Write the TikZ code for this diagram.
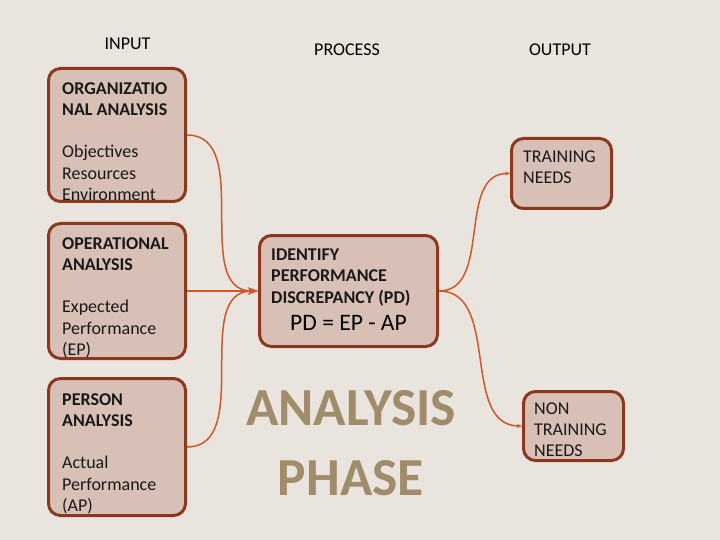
\documentclass[tikz,border=0pt]{standalone}
\usepackage{fontspec}
\setmainfont{Carlito}
\usetikzlibrary{arrows.meta}
\definecolor{slidebg}{RGB}{233,228,221}
\definecolor{boxfill}{RGB}{216,192,182}
\definecolor{boxborder}{RGB}{140,56,30}
\definecolor{linkred}{RGB}{208,86,44}
\definecolor{phasetan}{RGB}{160,140,106}

\begin{document}
\begin{tikzpicture}[
    x=1pt, y=-1pt,
    box/.style={rectangle, rounded corners=12pt, draw=boxborder, line width=3pt, fill=boxfill, inner sep=0pt},
    boxtxt/.style={anchor=base west, align=left, inner sep=0pt, font=\fontsize{18}{21.3}\selectfont, text=black!90},
    head/.style={anchor=base, inner sep=0pt, font=\fontsize{18}{21.3}\selectfont},
    link/.style={linkred, line width=1.5pt, -{Stealth[length=10pt,width=7pt,inset=3pt]}},
    outlink/.style={linkred, line width=1.5pt, -{Stealth[length=5pt,width=4pt]}},
]
    \fill[slidebg] (0,0) rectangle (720,540);
    \useasboundingbox (0,0) rectangle (720,540);

    % column heads
    \node[head] (hin) at (127.5,50) {INPUT};
    \node[head] (hproc) at (347,56) {PROCESS};
    \node[head] (hout) at (560,56) {OUTPUT};

    % input boxes (text placed by its last baseline)
    \node[box, minimum width=137, minimum height=133] (org) at (117,135) {};
    \node[boxtxt] (orgtxt) at (62,200.5) {\textbf{ORGANIZATIO}\\\textbf{NAL ANALYSIS}\\[21.3pt]Objectives\\Resources\\Environment};

    \node[box, minimum width=137, minimum height=135] (oper) at (117,291) {};
    \node[boxtxt] (opertxt) at (62,355.5) {\textbf{OPERATIONAL}\\\textbf{ANALYSIS}\\[21.3pt]Expected\\Performance\\(EP)};

    \node[box, minimum width=137, minimum height=137] (person) at (117,447) {};
    \node[boxtxt] (persontxt) at (62,511.5) {\textbf{PERSON}\\\textbf{ANALYSIS}\\[21.3pt]Actual\\Performance\\(AP)};

    % process
    \node[box, minimum width=178, minimum height=111] (ident) at (348.5,291) {};
    \node[boxtxt] (identtxt) at (271,303) {\textbf{IDENTIFY}\\\textbf{PERFORMANCE}\\\textbf{DISCREPANCY (PD)}};
    \node[anchor=base, inner sep=0pt, font=\fontsize{23.6}{28}\selectfont] (pdeq) at (348.5,330) {PD = EP - AP};

    \node[anchor=base, align=center, inner sep=0pt, text=phasetan, font=\fontsize{53.5}{70}\selectfont\bfseries] (phase) at (351,495) {ANALYSIS\\PHASE};

    % output boxes
    \node[box, minimum width=100, minimum height=70] (train) at (561.5,173.5) {};
    \node[boxtxt] (traintxt) at (523,183.5) {TRAINING\\NEEDS};

    \node[box, minimum width=100, minimum height=69] (nontrain) at (573.5,426) {};
    \node[boxtxt] (nontraintxt) at (534,456.6) {NON\\TRAINING\\NEEDS};

    % connectors
    \draw[link] (org.east) to[out=0, in=180] (ident.west);
    \draw[link] (oper.east) -- (ident.west);
    \draw[link] (person.east) to[out=0, in=180] (ident.west);
    \draw[outlink] (ident.east) to[out=0, in=180] (train.west);
    \draw[outlink] (ident.east) to[out=0, in=180] (nontrain.west);
\end{tikzpicture}
\end{document}
